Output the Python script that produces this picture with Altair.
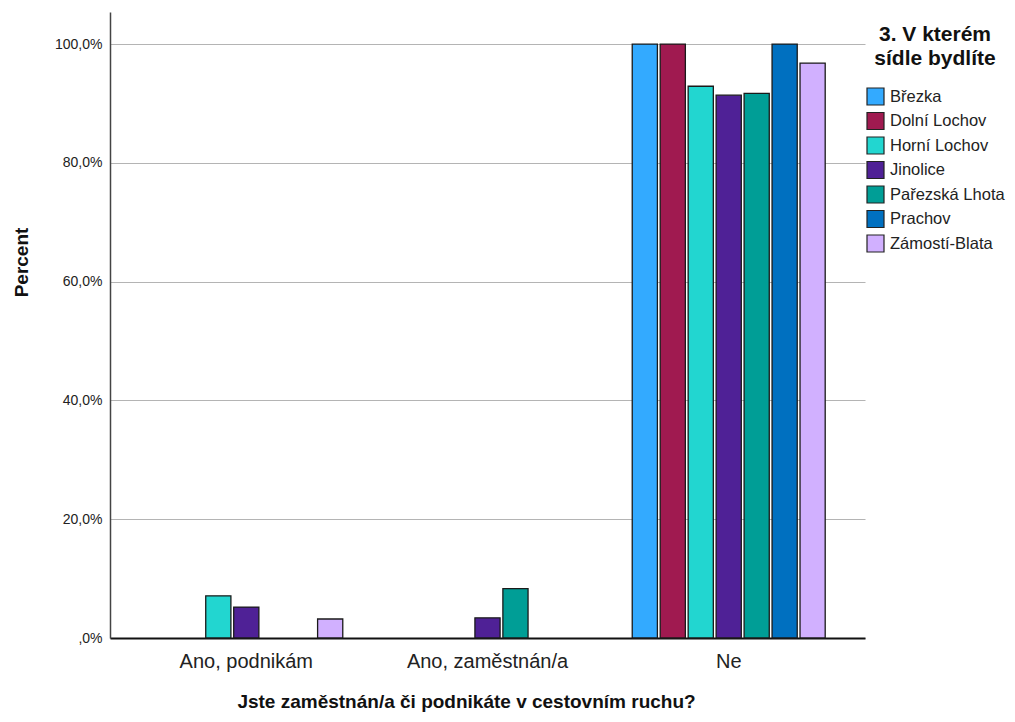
import altair as alt
import pandas as pd

categories = ["Ano, podnikám", "Ano, zaměstnán/a", "Ne"]
series = ["Březka", "Dolní Lochov", "Horní Lochov", "Jinolice",
          "Pařezská Lhota", "Prachov", "Zámostí-Blata"]
colors = ["#33aaff", "#a01a50", "#22d6d0", "#4f2196",
          "#009e96", "#0070c0", "#d1b0ff"]

podnikam = [0, 0, 7.1, 5.2, 0, 0, 3.2]
zamestnan = [0, 0, 0, 3.4, 8.3, 0, 0]
ne = [100, 100, 92.9, 91.4, 91.7, 100, 96.8]

rows = []
for cat, vals in zip(categories, [podnikam, zamestnan, ne]):
    for s, v in zip(series, vals):
        if v > 0:
            rows.append({"cat": cat, "series": s, "pct": v})
df = pd.DataFrame(rows)

FONT = "Liberation Sans"

label_expr = ("datum.value == 0 ? ',0%' : "
              "replace(format(datum.value, '.1f'), '.', ',') + '%'")

chart = alt.Chart(df).mark_bar(stroke="#1a1a1a", strokeWidth=1.3, opacity=1).encode(
    x=alt.X("cat:N", sort=categories,
            scale=alt.Scale(domain=categories, paddingInner=0.2, paddingOuter=0.165),
            axis=alt.Axis(title="Jste zaměstnán/a či podnikáte v cestovním ruchu?",
                          labelAngle=0, labelFontSize=20, labelFont=FONT,
                          labelColor="#222", labelPadding=13, labelBaseline="top",
                          ticks=False, tickSize=0,
                          domainColor="#111", domainWidth=2.2,
                          titleFont=FONT, titleFontSize=19, titleFontWeight="bold",
                          titleColor="#111", titleX=356, titleY=69,
                          titleAlign="center", titleBaseline="alphabetic")),
    xOffset=alt.XOffset("series:N", sort=series,
                        scale=alt.Scale(domain=series, paddingInner=0.1, paddingOuter=0)),
    y=alt.Y("pct:Q",
            scale=alt.Scale(domain=[0, 105.4], nice=False, zero=True),
            axis=alt.Axis(title="Percent", values=[0, 20, 40, 60, 80, 100],
                          labelExpr=label_expr, labelFontSize=14, labelFont=FONT,
                          labelColor="#222", labelPadding=8,
                          ticks=False, tickSize=0,
                          grid=True, gridColor="#b4b4b4", gridWidth=1.2,
                          domainColor="#444", domainWidth=1.5,
                          titleFont=FONT, titleFontSize=19, titleFontWeight="bold",
                          titleColor="#111", titleAngle=270, titleX=-83, titleY=250,
                          titleAlign="center", titleBaseline="alphabetic")),
    color=alt.Color("series:N", sort=series,
                    scale=alt.Scale(domain=series, range=colors),
                    legend=alt.Legend(
                        title=["3. V kterém", "sídle bydlíte"],
                        orient="none", legendX=756, legendY=12,
                        titleFont=FONT, titleFontSize=21, titleFontWeight="bold",
                        titleColor="#111", titleAlign="center", titleAnchor="middle",
                        titleLineHeight=24, titlePadding=18,
                        labelFont=FONT, labelFontSize=16.5, labelColor="#222",
                        labelOffset=5, labelLimit=300,
                        symbolType="square", symbolSize=289,
                        symbolStrokeColor="#222", symbolStrokeWidth=1.2,
                        symbolOpacity=1, rowPadding=1.5, padding=0)),
).properties(
    width=755, height=626,
    autosize=alt.AutoSizeParams(type="none"),
    padding={"left": 102, "top": 4, "right": 142, "bottom": 74},
).configure_view(stroke=None)

chart.save("out.html", embed_options={"renderer": "svg", "actions": False})
